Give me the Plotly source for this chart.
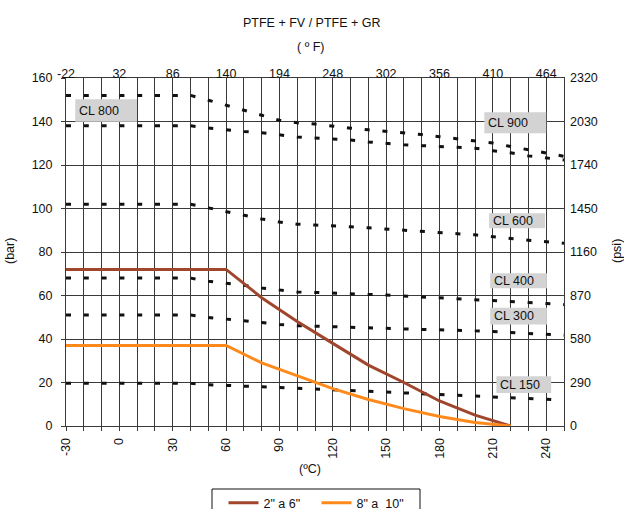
import plotly.graph_objects as go

# ---------------- data ----------------
T_C = [-30, -20, -10, 0, 10, 20, 30, 40, 50, 60, 70, 80, 90, 100, 110, 120, 130,
       140, 150, 160, 170, 180, 190, 200, 210, 220, 230, 240, 250]

CL900 = [152, 152, 152, 152, 152, 152, 152, 152, 149.8, 147.4, 145.1, 142.9, 140.6,
         139.4, 138.8, 137.8, 136.9, 136.2, 135.5, 134.8, 134.0, 133.0, 132.1, 131.2,
         130.1, 128.5, 127.0, 125.2, 124.0]
CL800 = [138, 138, 138, 138, 138, 138, 138, 138, 137.0, 136.1, 135.4, 134.8, 133.9,
         132.9, 132.4, 132.1, 131.5, 130.6, 129.9, 129.3, 128.9, 128.5, 128.1, 127.7,
         126.6, 125.6, 124.2, 123.2, 122.3]
CL600 = [102, 102, 102, 102, 102, 102, 102, 102, 100.3, 98.5, 96.9, 95.2, 93.8,
         92.8, 92.4, 92.1, 91.6, 91.1, 90.5, 89.9, 89.4, 88.9, 88.4, 87.9,
         87.2, 86.2, 85.4, 84.6, 84.0]
CL400 = [68, 68, 68, 68, 68, 68, 68, 68, 66.6, 65.7, 64.7, 63.5, 62.4,
         61.6, 61.4, 61.2, 60.8, 60.5, 60.2, 59.8, 59.4, 59.0, 58.7, 58.3,
         57.8, 57.3, 56.8, 56.3, 55.8]
CL300 = [51, 51, 51, 51, 51, 51, 51, 51, 49.9, 49.2, 48.4, 47.6, 46.7,
         46.1, 45.9, 45.6, 45.3, 45.1, 44.9, 44.6, 44.4, 44.2, 44.0, 43.8,
         43.5, 43.0, 42.6, 42.1, 41.7]
CL150 = [19.6, 19.6, 19.6, 19.6, 19.6, 19.6, 19.6, 19.6, 19.0, 18.7, 18.4, 18.1, 17.7,
         17.5, 17.2, 16.8, 16.3, 16.0, 15.6, 15.2, 14.8, 14.5, 14.1, 13.7,
         13.4, 13.0, 12.6, 12.2, 11.9]

T_SEAT = [-30, 60, 80, 100, 120, 140, 160, 180, 200, 220]
P_2_6 = [72, 72, 59, 48, 38, 28, 20, 11.5, 5, 0]
P_8_10 = [37, 37, 29, 23, 17.2, 12.2, 8, 4.4, 1.6, 0]

X_TICKS_C = [-30, 0, 30, 60, 90, 120, 150, 180, 210, 240]
X_TICKS_F = ["-22", "32", "86", "140", "194", "248", "302", "356", "410", "464"]
Y_TICKS_BAR = [0, 20, 40, 60, 80, 100, 120, 140, 160]
Y_TICKS_PSI = [0, 290, 580, 870, 1160, 1450, 1740, 2030, 2320]

CL_NAMES = ["CL 900", "CL 800", "CL 600", "CL 400", "CL 300", "CL 150"]
CL_SERIES = [CL900, CL800, CL600, CL400, CL300, CL150]

# label boxes (layout): x0, x1, y0, y1 in data units
CL_BOXES = {
    "CL 800": (-24.8, 9.9, 139.9, 150.2),
    "CL 900": (205.2, 240.0, 134.6, 144.2),
    "CL 600": (207.9, 239.3, 90.9, 97.8),
    "CL 400": (208.5, 240.4, 63.3, 70.2),
    "CL 300": (208.5, 240.4, 46.7, 54.4),
    "CL 150": (212.0, 242.8, 15.2, 22.9),
}

FONT = "Liberation Sans, Arial, Helvetica, sans-serif"
GRID = "#3a3a3a"
FS = 12.5

H, W = 509, 624
ML, MR, MT, MB = 66, 60, 78, 83
PW, PH = W - ML - MR, H - MT - MB


def py(p):
    return (H - MB - p) / PH


def px(p):
    return (p - ML) / PW


fig = go.Figure()

for name, vals in zip(CL_NAMES, CL_SERIES):
    fig.add_trace(go.Scatter(
        x=T_C, y=vals, mode="lines", name=name, showlegend=False, hoverinfo="skip",
        line=dict(color="#111111", width=3, dash="5px,12.8px")))

fig.add_trace(go.Scatter(x=T_SEAT, y=P_2_6, mode="lines", name='2" a 6"',
                         line=dict(color="#A0462D", width=3)))
fig.add_trace(go.Scatter(x=T_SEAT, y=P_8_10, mode="lines", name='8" a  10"',
                         line=dict(color="#FF8A1C", width=3)))

# empty trace so the °F / psi axes get drawn
fig.add_trace(go.Scatter(x=T_C, y=[None] * len(T_C), xaxis="x2", yaxis="y2",
                         mode="lines", showlegend=False, hoverinfo="skip"))

shapes = []
annotations = []
for label, (x0, x1, y0, y1) in CL_BOXES.items():
    shapes.append(dict(type="rect", xref="x", yref="y", x0=x0, x1=x1, y0=y0, y1=y1,
                       fillcolor="#D3D3D3", line=dict(width=0), layer="above"))
    annotations.append(dict(x=x0, y=(y0 + y1) / 2, xref="x", yref="y", text=label,
                            showarrow=False, xanchor="left", yanchor="middle", xshift=2,
                            font=dict(size=FS, color="#111111", family=FONT)))

# legend frame
shapes.append(dict(type="rect", xref="paper", yref="paper",
                   x0=px(212), x1=px(420), y0=py(489), y1=py(520),
                   line=dict(color="#111", width=1), fillcolor="white", layer="below"))


def txt(text, x, y, angle=0):
    return dict(text=text, x=px(x), y=py(y), xref="paper", yref="paper", showarrow=False,
                xanchor="center", yanchor="middle", textangle=angle,
                font=dict(size=FS, color="#111", family=FONT))


annotations += [
    txt("PTFE + FV / PTFE + GR", 312, 23),
    txt("( º F)", 310, 47),
    txt("(ºC)", 310, 469),
    txt("(bar)", 10, 251, -90),
    txt("(psi)", 617, 251, -90),
]

fig.update_layout(
    width=W, height=H,
    margin=dict(l=ML, r=MR, t=MT, b=MB, autoexpand=False),
    paper_bgcolor="white", plot_bgcolor="white",
    font=dict(family=FONT, size=FS, color="#111"),
    shapes=shapes, annotations=annotations,
    xaxis=dict(range=[-30, 250], tickmode="array", tickvals=X_TICKS_C,
               ticktext=[str(v) for v in X_TICKS_C], tickangle=-90,
               ticks="outside", ticklen=4, tickcolor=GRID, ticklabelstandoff=2,
               showgrid=True, gridcolor=GRID, gridwidth=1, automargin=False,
               minor=dict(dtick=10, tick0=-30, ticks="outside", ticklen=4, tickcolor=GRID,
                          showgrid=True, gridcolor=GRID, gridwidth=1),
               showline=True, linecolor=GRID, linewidth=1, mirror=True, zeroline=False),
    xaxis2=dict(range=[-30, 250], overlaying="x", side="top", anchor="y",
                tickmode="array", tickvals=X_TICKS_C, ticktext=X_TICKS_F, ticks="",
                showgrid=False, zeroline=False, showline=False, ticklabelstandoff=-3,
                automargin=False),
    yaxis=dict(range=[0, 160], tickmode="array", tickvals=Y_TICKS_BAR,
               ticks="outside", ticklen=4, tickcolor=GRID, ticklabelstandoff=6,
               showgrid=True, gridcolor=GRID, gridwidth=1, automargin=False,
               showline=True, linecolor=GRID, linewidth=1, mirror=True, zeroline=False),
    yaxis2=dict(range=[0, 2320], overlaying="y", side="right", anchor="x",
                tickmode="array", tickvals=Y_TICKS_PSI, ticks="", ticklabelstandoff=5,
                showgrid=False, zeroline=False, showline=False, automargin=False),
    legend=dict(orientation="h", x=px(316.5), xanchor="center", y=py(488), yanchor="top",
                borderwidth=0, bgcolor="rgba(0,0,0,0)",
                entrywidth=48, entrywidthmode="pixels",
                font=dict(size=FS, family=FONT, color="#111")),
    showlegend=True,
)

fig.write_html("out.html", config={"displayModeBar": False},
               post_script="document.body.style.margin='0';document.body.style.overflow='hidden';")
